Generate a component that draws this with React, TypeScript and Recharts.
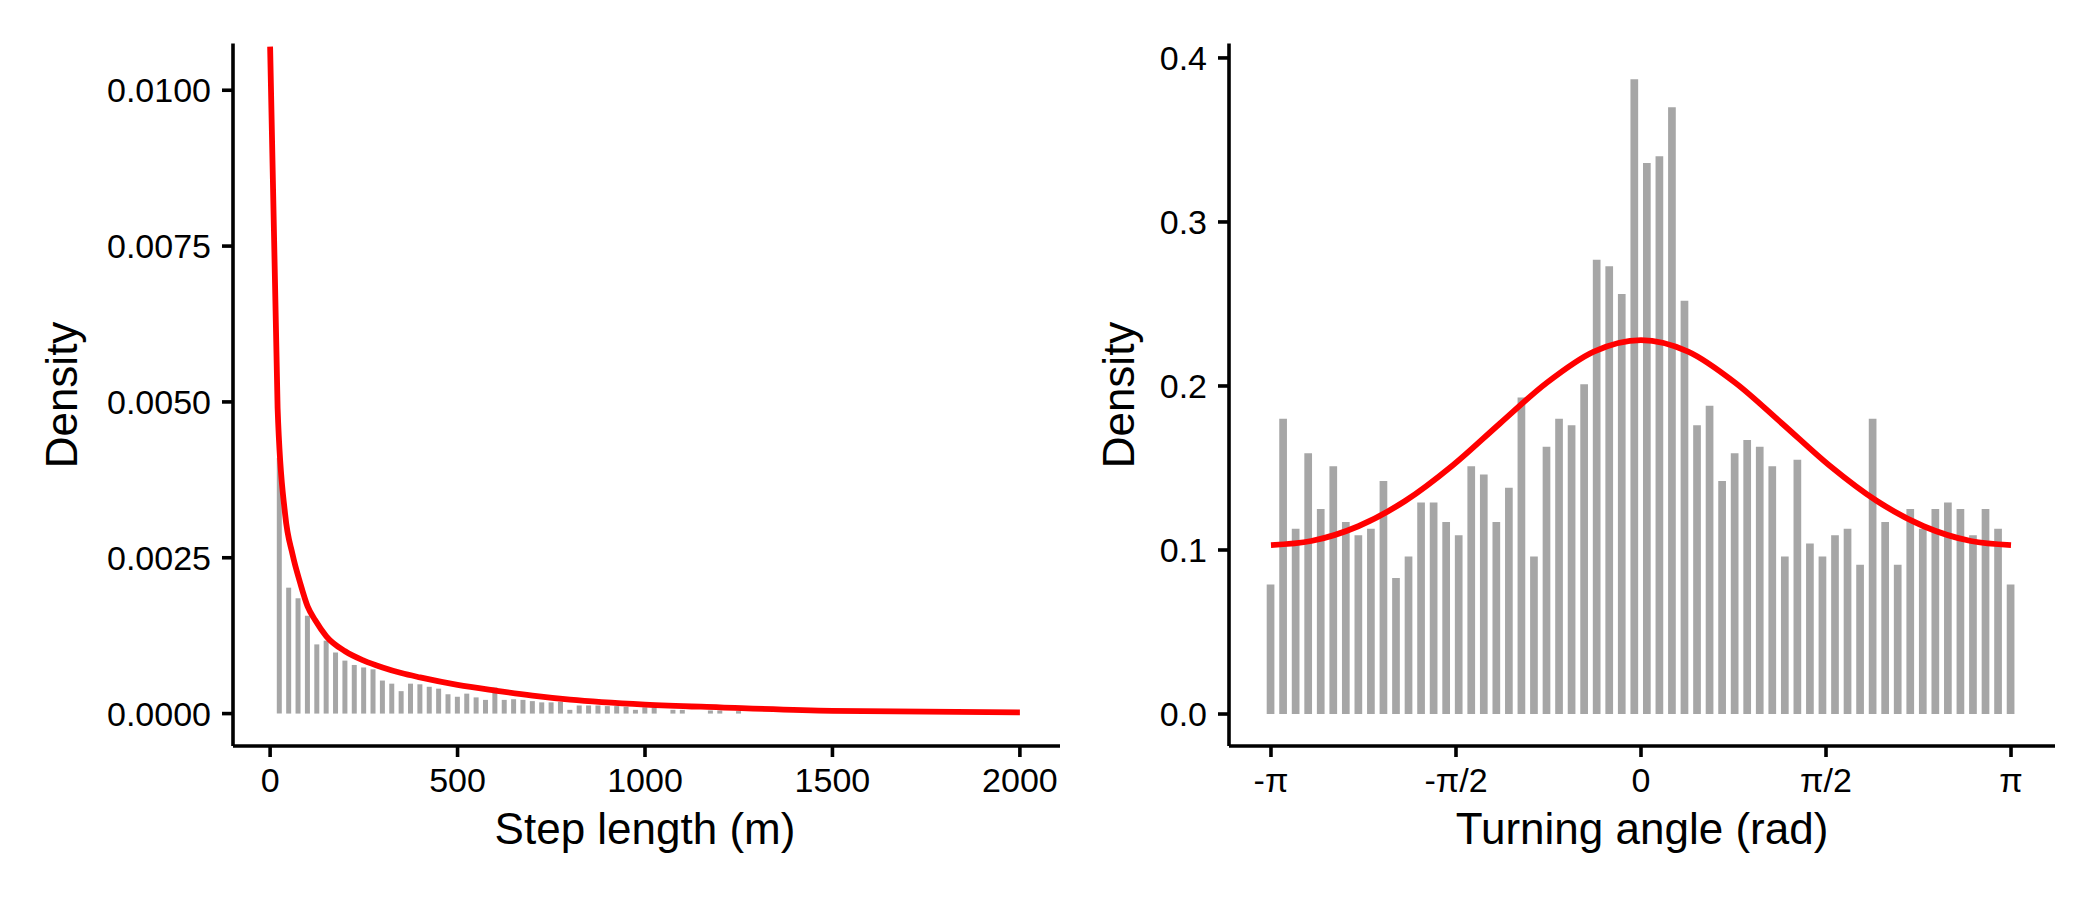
import React from 'react'
import { ComposedChart, Bar, Line, XAxis, YAxis } from 'recharts'

const FONT = '"Liberation Sans", Arial, Helvetica, sans-serif'
const BAR_GREY = '#A6A6A6'
const CURVE_RED = '#FF0000'

// step length histogram: 25 m bins, density per bin
const STEP_BIN = 25
const STEP_DENSITY = [
  0.0041, 0.00202, 0.00185, 0.00157, 0.00111, 0.00117, 0.00098, 0.00085, 0.00078, 0.00074,
  0.00071, 0.00053, 0.00048, 0.00036, 0.00048, 0.00047, 0.00043, 0.0004, 0.00031, 0.00027,
  0.00032, 0.00026, 0.00022, 0.00042, 0.00022, 0.00023, 0.00022, 0.0002, 0.00018, 0.00018,
  0.00019, 0.00006, 0.00013, 0.00013, 0.00013, 0.00012, 0.00012, 0.00011, 0.00006, 0.0001,
  0.0001, 0, 0.00006, 0.00006, 0, 0, 0.00005, 0.00005, 0, 0.00004,
]
// fitted step length curve
const STEP_CURVE_X = [0, 20, 40, 60, 80, 100, 120, 150, 200, 250, 300, 350, 400, 500, 600, 700, 800, 1000, 1200, 1500, 2000]
const STEP_CURVE_Y = [
  0.0107, 0.0049, 0.0032, 0.00255, 0.0021, 0.00172, 0.0015, 0.00124, 0.001, 0.00085,
  0.00074, 0.00065, 0.00058, 0.00046, 0.00037, 0.00029, 0.000225, 0.000145, 0.0001, 0.000045, 0.00002,
]
const STEP_X_TICKS = [0, 500, 1000, 1500, 2000]
const STEP_Y_TICKS = [0, 0.0025, 0.005, 0.0075, 0.01]

// turning angle histogram: 60 bins from -pi to pi
const ANGLE_DENSITY = [
  0.079, 0.18, 0.113, 0.159, 0.125, 0.151, 0.117, 0.109, 0.113, 0.142,
  0.083, 0.096, 0.129, 0.129, 0.117, 0.109, 0.151, 0.146, 0.117, 0.138,
  0.193, 0.096, 0.163, 0.18, 0.176, 0.201, 0.277, 0.273, 0.256, 0.387,
  0.336, 0.34, 0.37, 0.252, 0.176, 0.188, 0.142, 0.159, 0.167, 0.163,
  0.151, 0.096, 0.155, 0.104, 0.096, 0.109, 0.113, 0.091, 0.18, 0.117,
  0.091, 0.125, 0.113, 0.125, 0.129, 0.125, 0.109, 0.125, 0.113, 0.079,
]
const ANGLE_CURVE_X = [-Math.PI, -2.8, -2.4, -2.0, -1.6, -1.2, -0.8, -0.4, 0, 0.4, 0.8, 1.2, 1.6, 2.0, 2.4, 2.8, Math.PI]
const ANGLE_CURVE_Y = [
  0.103, 0.1055, 0.1145, 0.13, 0.1515, 0.177, 0.202, 0.221, 0.228,
  0.221, 0.202, 0.177, 0.1515, 0.13, 0.1145, 0.1055, 0.103,
]
const ANGLE_X_TICKS = [-Math.PI, -Math.PI / 2, 0, Math.PI / 2, Math.PI]
const ANGLE_X_LABELS = ['-π', '-π/2', '0', 'π/2', 'π']
const ANGLE_Y_TICKS = [0, 0.1, 0.2, 0.3, 0.4]

const STEP_DOMAIN: [number, number] = [-99, 2107]
const ANGLE_DOMAIN: [number, number] = [-3.498, 3.515]

const stepBars = STEP_DENSITY.map((d, i) => ({ x: (i + 1) * STEP_BIN, density: d }))
const stepCurve = STEP_CURVE_X.map((x, i) => ({ x, curve: STEP_CURVE_Y[i] }))

const angleStep = (2 * Math.PI) / (ANGLE_DENSITY.length - 1)
const angleBars = ANGLE_DENSITY.map((d, i) => ({ x: -Math.PI + i * angleStep, density: d }))
const angleCurve = ANGLE_CURVE_X.map((x, i) => ({ x, curve: ANGLE_CURVE_Y[i] }))

const axisStroke = { stroke: '#000', strokeWidth: 3.6 }
const tickStyle = { fill: '#000', fontSize: 34, fontFamily: FONT }

function angleLabel(v: number) {
  const i = ANGLE_X_TICKS.findIndex((t) => Math.abs(t - v) < 1e-6)
  return i >= 0 ? ANGLE_X_LABELS[i] : ''
}

export default function App() {
  return (
    <div style={{ position: 'absolute', left: 0, top: 0, width: 2100, height: 900, background: '#fff' }}>
      <div style={{ position: 'absolute', left: 0, top: 0 }}>
        <ComposedChart
          width={1100}
          height={900}
          data={stepBars}
          margin={{ top: 43.5, right: 40, bottom: 94, left: 133 }}
        >
          <XAxis
            dataKey="x"
            type="number"
            domain={STEP_DOMAIN}
            ticks={STEP_X_TICKS}
            interval={0}
            allowDataOverflow
            height={60}
            axisLine={axisStroke}
            tickLine={axisStroke}
            tickSize={11}
            tickMargin={11}
            tick={tickStyle}
          />
          {/* separate hidden axis for the curve so its x values do not shrink the bar band */}
          <XAxis xAxisId="curve" dataKey="x" type="number" domain={STEP_DOMAIN} allowDataOverflow hide />
          <YAxis
            type="number"
            domain={[-0.00052, 0.01075]}
            ticks={STEP_Y_TICKS}
            interval={0}
            allowDataOverflow
            width={100}
            axisLine={axisStroke}
            tickLine={axisStroke}
            tickSize={11}
            tickMargin={11}
            tick={tickStyle}
            tickFormatter={(v: number) => v.toFixed(4)}
          />
          <Bar dataKey="density" fill={BAR_GREY} barSize={5} isAnimationActive={false} />
          <Line
            xAxisId="curve"
            data={stepCurve}
            dataKey="curve"
            type="monotone"
            stroke={CURVE_RED}
            strokeWidth={5.8}
            dot={false}
            activeDot={false}
            isAnimationActive={false}
          />
        </ComposedChart>
      </div>

      <div style={{ position: 'absolute', left: 1100, top: 0 }}>
        <ComposedChart
          width={1000}
          height={900}
          data={angleBars}
          margin={{ top: 43.5, right: 45, bottom: 94, left: 29 }}
        >
          <XAxis
            dataKey="x"
            type="number"
            domain={ANGLE_DOMAIN}
            ticks={ANGLE_X_TICKS}
            interval={0}
            allowDataOverflow
            height={60}
            axisLine={axisStroke}
            tickLine={axisStroke}
            tickSize={11}
            tickMargin={11}
            tick={tickStyle}
            tickFormatter={angleLabel}
          />
          <XAxis xAxisId="curve" dataKey="x" type="number" domain={ANGLE_DOMAIN} allowDataOverflow hide />
          <YAxis
            type="number"
            domain={[-0.0195, 0.4088]}
            ticks={ANGLE_Y_TICKS}
            interval={0}
            allowDataOverflow
            width={100}
            axisLine={axisStroke}
            tickLine={axisStroke}
            tickSize={11}
            tickMargin={11}
            tick={tickStyle}
            tickFormatter={(v: number) => v.toFixed(1)}
          />
          <Bar dataKey="density" fill={BAR_GREY} barSize={7.7} isAnimationActive={false} />
          <Line
            xAxisId="curve"
            data={angleCurve}
            dataKey="curve"
            type="monotone"
            stroke={CURVE_RED}
            strokeWidth={5.8}
            dot={false}
            activeDot={false}
            isAnimationActive={false}
          />
        </ComposedChart>
      </div>

      {/* axis titles */}
      <svg
        width={2100}
        height={900}
        style={{ position: 'absolute', left: 0, top: 0, pointerEvents: 'none' }}
        fontFamily={FONT}
        fontSize={44}
        fill="#000"
      >
        <text x={645} y={843.5} textAnchor="middle">Step length (m)</text>
        <text x={1642} y={843.5} textAnchor="middle">Turning angle (rad)</text>
        <text transform="translate(76.7 395) rotate(-90)" textAnchor="middle">Density</text>
        <text transform="translate(1134 395) rotate(-90)" textAnchor="middle">Density</text>
      </svg>
    </div>
  )
}
